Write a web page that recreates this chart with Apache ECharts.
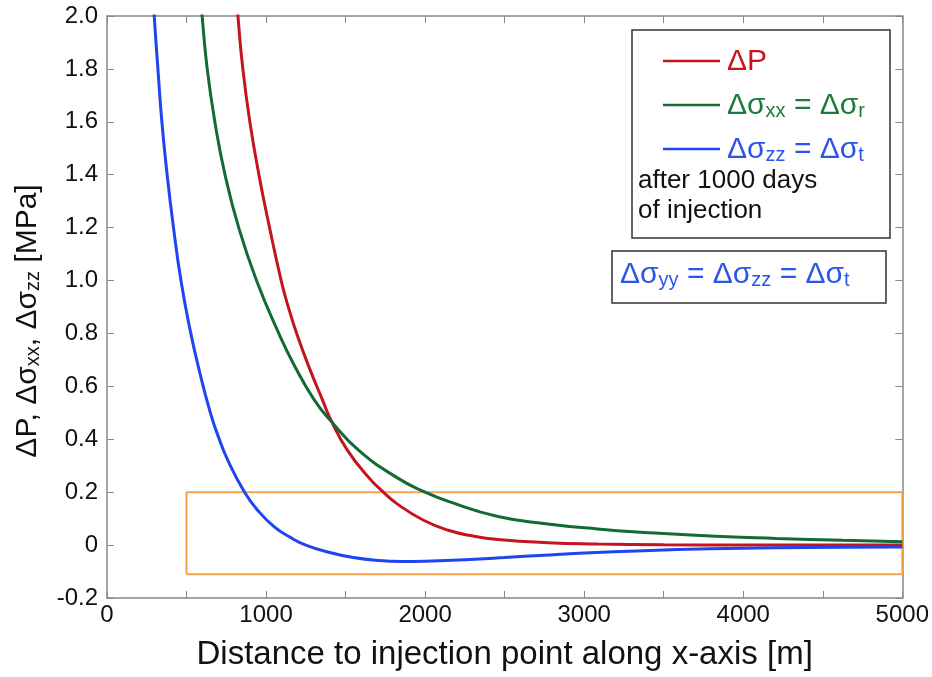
<!DOCTYPE html>
<html>
<head>
<meta charset="utf-8">
<script src="https://cdn.jsdelivr.net/npm/echarts@6/dist/echarts.min.js"></script>
<style>
html, body { margin: 0; padding: 0; background: #fff; }
#chart { width: 932px; height: 677px; }
</style>
</head>
<body>
<div id="chart"></div>
<script>
// ΔP (red)
var pX = [800, 823, 854, 898, 955, 1022, 1095, 1140, 1198, 1275, 1354, 1406, 1510, 1646, 1729, 1833, 1990, 2146, 2302, 2458, 2771, 3083, 3500, 4000, 4500, 5000];
var pY = [2.17, 2.0, 1.8, 1.6, 1.4, 1.2, 1.0, 0.9, 0.79, 0.665, 0.55, 0.475, 0.36, 0.255, 0.205, 0.152, 0.094, 0.056, 0.034, 0.021, 0.009, 0.004, 0.001, 0.0, 0.0, 0.0];
// Δσxx (green)
var xxX = [570, 598, 630, 678, 742, 828, 940, 1080, 1177, 1302, 1406, 1583, 1823, 2000, 2146, 2458, 2771, 3083, 3375, 3792, 4208, 4625, 5000];
var xxY = [2.2, 2.0, 1.8, 1.6, 1.4, 1.2, 1.0, 0.8, 0.68, 0.55, 0.47, 0.358, 0.255, 0.2, 0.165, 0.108, 0.08, 0.061, 0.048, 0.034, 0.025, 0.018, 0.013];
// Δσzz (blue)
var zzX = [275, 297, 320, 345, 378, 418, 465, 520, 580, 650, 700, 760, 865, 950, 1050, 1150, 1250, 1400, 1550, 1700, 1850, 2000, 2250, 2500, 2750, 3000, 3375, 3792, 4208, 4625, 5000];
var zzY = [2.22, 2.0, 1.8, 1.6, 1.4, 1.2, 1.0, 0.82, 0.66, 0.5, 0.41, 0.32, 0.2, 0.13, 0.07, 0.03, 0.0, -0.028, -0.047, -0.058, -0.062, -0.061, -0.055, -0.047, -0.038, -0.03, -0.021, -0.014, -0.01, -0.008, -0.007];
// orange highlight box
var boxX = [500, 5000];
var boxY = [-0.11, 0.2];

var xTicks = [0, 1000, 2000, 3000, 4000, 5000];

var RED = '#c4141e', GREEN = '#126b34', BLUE = '#1f45ee';
var TXT_RED = '#c8141e', TXT_GREEN = '#1b7a3c', TXT_BLUE = '#2a55e8';
var FONT = 'Liberation Sans';

function pairs(xs, ys) {
    var out = [];
    for (var i = 0; i < xs.length; i++) out.push([xs[i], ys[i]]);
    return out;
}

// big / subscript rich styles (subscript sits lower via a short line box)
function big(color, size, key) {
    var o = { fontFamily: FONT, fontSize: size, lineHeight: 32, verticalAlign: 'bottom' };
    o[key] = color;
    return o;
}
function sub(color, size, key) {
    var o = { fontFamily: FONT, fontSize: size, lineHeight: 12, verticalAlign: 'bottom' };
    o[key] = color;
    return o;
}

var chart = echarts.init(document.getElementById('chart'));

var axisGray = '#888';

var option = {
    backgroundColor: '#fff',
    animation: false,
    grid: { left: 107, right: 26, top: 16, bottom: 79 },
    xAxis: [{
        type: 'value', min: 0, max: 5000, interval: 500,
        name: 'Distance to injection point along x-axis [m]',
        nameLocation: 'middle', nameGap: 40,
        nameTextStyle: { fontFamily: FONT, fontSize: 33, color: '#111' },
        axisLine: { onZero: false, lineStyle: { color: axisGray, width: 1.5 } },
        axisTick: { inside: true, length: 7, lineStyle: { color: axisGray } },
        axisLabel: {
            fontFamily: FONT, fontSize: 24, color: '#111', margin: 5,
            formatter: function (v) { return xTicks.indexOf(v) >= 0 ? String(v) : ''; }
        },
        splitLine: { show: false }
    }, {
        type: 'value', min: 0, max: 5000, interval: 500, position: 'top',
        axisLine: { show: true, onZero: false, lineStyle: { color: axisGray, width: 1.5 } },
        axisTick: { inside: true, length: 7, lineStyle: { color: axisGray } },
        axisLabel: { show: false }, splitLine: { show: false }
    }],
    yAxis: [{
        type: 'value', min: -0.2, max: 2.0, interval: 0.2,
        name: '{a|ΔP, Δσ}{s|xx}{a|, Δσ}{s|zz}{a| [MPa]}',
        nameLocation: 'middle', nameGap: 64, nameRotate: 90,
        nameTextStyle: {
            padding: [0, 28, 0, 0],
            rich: { a: big('#111', 30, 'color'), s: sub('#111', 20, 'color') }
        },
        axisLine: { show: true, onZero: false, lineStyle: { color: axisGray, width: 1.5 } },
        axisTick: { show: true, inside: true, length: 7, lineStyle: { color: axisGray } },
        axisLabel: {
            fontFamily: FONT, fontSize: 24, color: '#111', margin: 9,
            formatter: function (v) { return Math.abs(v) < 1e-9 ? '0' : v.toFixed(1); }
        },
        splitLine: { show: false }
    }, {
        type: 'value', min: -0.2, max: 2.0, interval: 0.2, position: 'right',
        axisLine: { show: true, onZero: false, lineStyle: { color: axisGray, width: 1.5 } },
        axisTick: { show: true, inside: true, length: 7, lineStyle: { color: axisGray } },
        axisLabel: { show: false }, splitLine: { show: false }
    }],
    legend: {
        orient: 'vertical', left: 658, top: 42, itemGap: 14,
        icon: 'rect', itemWidth: 57, itemHeight: 2.5,
        data: ['dP', 'sxx', 'szz'],
        formatter: function (name) {
            if (name === 'dP') return '{r|ΔP}';
            if (name === 'sxx') return '{g|Δσ}{gs|xx}{g| = Δσ}{gs|r}';
            return '{b|Δσ}{bs|zz}{b| = Δσ}{bs|t}';
        },
        textStyle: {
            padding: [0, 0, 0, 2],
            rich: {
                r: big(TXT_RED, 30, 'color'),
                g: big(TXT_GREEN, 30, 'color'),
                gs: sub(TXT_GREEN, 20, 'color'),
                b: big(TXT_BLUE, 30, 'color'),
                bs: sub(TXT_BLUE, 20, 'color')
            }
        }
    },
    graphic: [
        { type: 'rect', shape: { x: 632, y: 30, width: 258, height: 208 },
          style: { fill: 'none', stroke: '#333', lineWidth: 1.5 }, z: 100 },
        { type: 'text', left: 638, top: 166,
          style: { text: 'after 1000 days\nof injection', fontFamily: FONT, fontSize: 26, lineHeight: 30, fill: '#111' }, z: 100 },
        { type: 'rect', shape: { x: 612, y: 251, width: 274, height: 52 },
          style: { fill: '#fff', stroke: '#333', lineWidth: 1.5 }, z: 100 },
        { type: 'text', left: 620, top: 260,
          style: {
              text: '{b|Δσ}{s|yy}{b| = Δσ}{s|zz}{b| = Δσ}{s|t}',
              rich: { b: big(TXT_BLUE, 30, 'fill'), s: sub(TXT_BLUE, 20, 'fill') }
          }, z: 100 }
    ],
    series: [{
        name: 'box', type: 'line', symbol: 'none', silent: true,
        lineStyle: { color: '#f5a34a', width: 2 },
        data: [[boxX[0], boxY[0]], [boxX[1], boxY[0]], [boxX[1], boxY[1]], [boxX[0], boxY[1]], [boxX[0], boxY[0]]],
        z: 1
    }, {
        name: 'dP', type: 'line', symbol: 'none', smooth: 0.5,
        color: RED, lineStyle: { color: RED, width: 3 },
        data: pairs(pX, pY), z: 3
    }, {
        name: 'sxx', type: 'line', symbol: 'none', smooth: 0.5,
        color: GREEN, lineStyle: { color: GREEN, width: 3 },
        data: pairs(xxX, xxY), z: 4
    }, {
        name: 'szz', type: 'line', symbol: 'none', smooth: 0.5,
        color: BLUE, lineStyle: { color: BLUE, width: 3 },
        data: pairs(zzX, zzY), z: 5
    }]
};

chart.setOption(option);
</script>
</body>
</html>
